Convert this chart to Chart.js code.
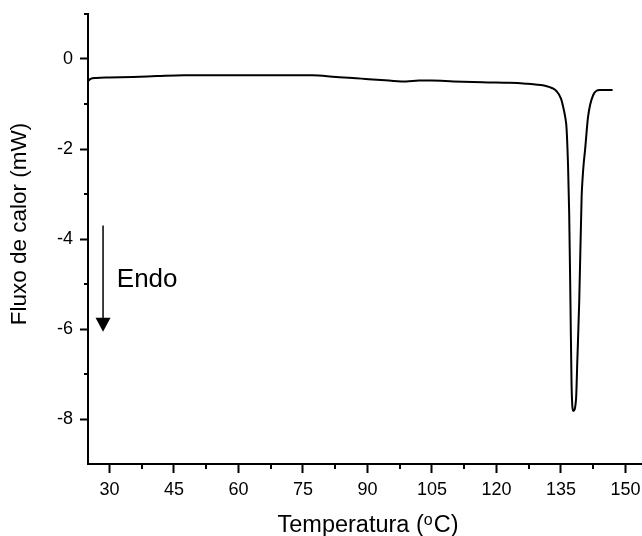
<!DOCTYPE html>
<html>
<head>
<meta charset="utf-8">
<script src="https://cdn.jsdelivr.net/npm/chart.js@4/dist/chart.umd.min.js"></script>
<style>
  html, body { margin: 0; padding: 0; background: #fff; }
  #wrap { width: 642px; height: 536px; position: relative; }
</style>
</head>
<body>
<div id="wrap"><canvas id="c" width="642" height="536"></canvas></div>
<script>
// ---- data ----
const temperature = [25, 25.6, 26.9, 30, 35.4, 41, 47.3, 55, 62, 70, 77.2, 82.7, 86.5, 90.3, 95, 99, 102, 105, 110, 118, 123, 126.9, 129.5, 131.5, 133, 134, 135, 135.5, 136, 136.3, 136.65, 136.9, 137.2, 137.45, 137.85, 138.5, 138.8, 139.25, 139.8, 140.05, 140.3, 140.6, 141.3, 142.5, 144, 147];
const heatFlow = [-0.49, -0.44, -0.42, -0.41, -0.40, -0.38, -0.36, -0.36, -0.36, -0.36, -0.36, -0.40, -0.42, -0.45, -0.48, -0.50, -0.48, -0.48, -0.50, -0.52, -0.53, -0.55, -0.57, -0.60, -0.65, -0.72, -0.88, -1.06, -1.3, -1.55, -2.4, -3.4, -5.4, -7.2, -7.82, -7.56, -6.7, -5.36, -3.06, -2.62, -2.3, -2.02, -1.28, -0.8, -0.69, -0.69];

const xTicks = [30, 45, 60, 75, 90, 105, 120, 135, 150];
const xMinorTicks = [37.5, 52.5, 67.5, 82.5, 97.5, 112.5, 127.5, 142.5];
const yTicks = [0, -2, -4, -6, -8];
const yMinorTicks = [1, -1, -3, -5, -7];

const xTitleParts = ['Temperatura (', 'o', 'C)'];
const yTitle = 'Fluxo de calor (mW)';
const arrowFrom = [28.5, -3.7];
const arrowTo = [28.5, -6.06];
const endoLabel = ['Endo', 31.7, -4.91];

const FONT = "'Liberation Sans', Arial, Helvetica, sans-serif";

const points = temperature.map((t, i) => ({ x: t, y: heatFlow[i] }));

const extras = {
  id: 'extras',
  afterDraw(chart) {
    const ctx = chart.ctx;
    const xs = chart.scales.x, ys = chart.scales.y;
    const area = chart.chartArea;
    ctx.save();
    ctx.strokeStyle = '#000';
    ctx.lineWidth = 2;
    // minor ticks
    ctx.beginPath();
    xMinorTicks.forEach(v => {
      const px = Math.round(xs.getPixelForValue(v));
      ctx.moveTo(px, area.bottom);
      ctx.lineTo(px, area.bottom + 5);
    });
    yMinorTicks.forEach(v => {
      const py = Math.round(ys.getPixelForValue(v));
      ctx.moveTo(area.left, py);
      ctx.lineTo(area.left - 4, py);
    });
    ctx.stroke();
    // arrow
    const ax = xs.getPixelForValue(arrowFrom[0]);
    const ay0 = ys.getPixelForValue(arrowFrom[1]);
    const ay1 = ys.getPixelForValue(arrowTo[1]);
    ctx.lineWidth = 1.5;
    ctx.beginPath();
    ctx.moveTo(ax, ay0);
    ctx.lineTo(ax, ay1 - 12);
    ctx.stroke();
    ctx.fillStyle = '#000';
    ctx.beginPath();
    ctx.moveTo(ax - 7.5, ay1 - 14);
    ctx.lineTo(ax + 7.5, ay1 - 14);
    ctx.lineTo(ax, ay1);
    ctx.closePath();
    ctx.fill();
    // label
    ctx.font = '26px ' + FONT;
    ctx.textBaseline = 'middle';
    ctx.textAlign = 'left';
    ctx.fillText(endoLabel[0], xs.getPixelForValue(endoLabel[1]), ys.getPixelForValue(endoLabel[2]));

    // x axis title with superscript o
    ctx.textBaseline = 'alphabetic';
    ctx.font = '23.5px ' + FONT;
    const w0 = ctx.measureText(xTitleParts[0]).width;
    ctx.font = '16px ' + FONT;
    const w1 = ctx.measureText(xTitleParts[1]).width;
    ctx.font = '23.5px ' + FONT;
    const w2 = ctx.measureText(xTitleParts[2]).width;
    const total = w0 + w1 + 1 + w2;
    const cx = 368;
    let tx = cx - total / 2;
    const base = 531.5;
    ctx.fillText(xTitleParts[0], tx, base);
    tx += w0;
    ctx.font = '16px ' + FONT;
    ctx.fillText(xTitleParts[1], tx, base - 6.5);
    tx += w1 + 1;
    ctx.font = '23.5px ' + FONT;
    ctx.fillText(xTitleParts[2], tx, base);

    // y axis title
    ctx.save();
    ctx.font = '22.5px ' + FONT;
    ctx.translate(20, 224);
    ctx.rotate(-Math.PI / 2);
    ctx.textAlign = 'center';
    ctx.textBaseline = 'middle';
    ctx.fillText(yTitle, 0, 0);
    ctx.restore();
    ctx.restore();
  }
};

new Chart(document.getElementById('c'), {
  type: 'line',
  data: {
    datasets: [{
      data: points,
      borderColor: '#000',
      borderWidth: 2,
      pointRadius: 0,
      cubicInterpolationMode: 'monotone',
      fill: false
    }]
  },
  options: {
    responsive: false,
    animation: false,
    devicePixelRatio: 1,
    layout: { padding: { top: 14, right: 0, bottom: 0, left: 0 } },
    plugins: { legend: { display: false }, tooltip: { enabled: false } },
    scales: {
      x: {
        type: 'linear',
        position: 'bottom',
        min: 25,
        max: 153.84,
        afterBuildTicks: s => { s.ticks = xTicks.map(v => ({ value: v })); },
        afterFit: s => { s.height = 72; s.paddingLeft = 0; s.paddingRight = 0; },
        ticks: {
          color: '#000',
          font: { family: FONT, size: 18 },
          padding: 6,
          maxRotation: 0,
          autoSkip: false,
          callback: v => String(v)
        },
        grid: { drawOnChartArea: false, drawTicks: true, tickLength: 9, tickWidth: 2, tickColor: '#000' },
        border: { display: true, color: '#000', width: 2 },
        title: { display: false }
      },
      y: {
        type: 'linear',
        position: 'left',
        min: -9,
        max: 1,
        afterBuildTicks: s => { s.ticks = yTicks.map(v => ({ value: v })); },
        afterFit: s => { s.width = 88; s.paddingTop = 0; s.paddingBottom = 0; },
        ticks: {
          color: '#000',
          font: { family: FONT, size: 18 },
          padding: 7,
          autoSkip: false,
          callback: v => String(v)
        },
        grid: { drawOnChartArea: false, drawTicks: true, tickLength: 8, tickWidth: 2, tickColor: '#000' },
        border: { display: true, color: '#000', width: 2 },
        title: { display: false }
      }
    }
  },
  plugins: [extras]
});
</script>
</body>
</html>
